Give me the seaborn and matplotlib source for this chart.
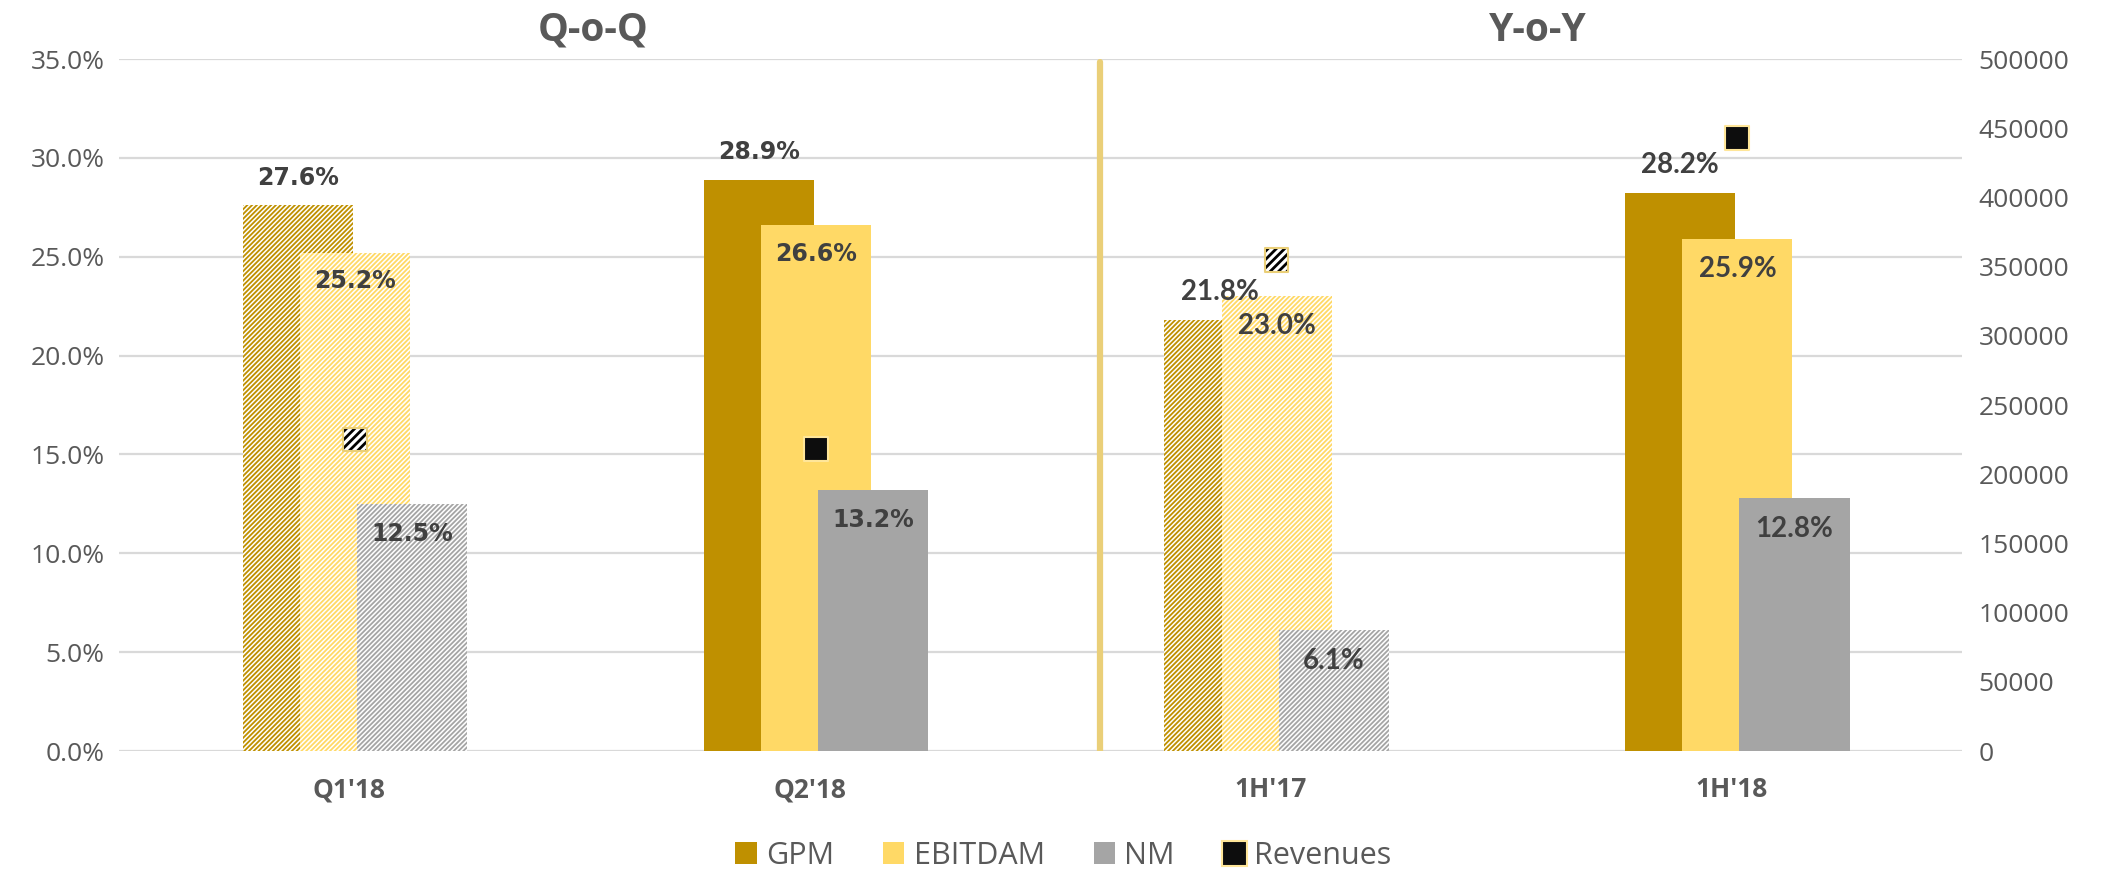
import numpy as np
import pandas as pd
import matplotlib
matplotlib.use('Agg')
import matplotlib.pyplot as plt
import seaborn as sns
from matplotlib.patches import Patch
from matplotlib.lines import Line2D

# ---- data ----
categories = ["Q1'18", "Q2'18", "1H'17", "1H'18"]
series = ['GPM', 'EBITDAM', 'NM']
gpm = [27.6, 28.9, 21.8, 28.2]
ebitdam = [25.2, 26.6, 23.0, 25.9]
nm = [12.5, 13.2, 6.1, 12.8]
revenues = [225000, 218000, 355000, 443000]
hatched = ["Q1'18", "1H'17"]
left_ticks = [0, 5, 10, 15, 20, 25, 30, 35]
right_ticks = list(range(0, 500001, 50000))

colors = {'GPM': '#BF9000', 'EBITDAM': '#FFD966', 'NM': '#A5A5A5'}
txt = '#595959'
lbl = '#404040'

df = pd.DataFrame({
    'period': categories * 3,
    'metric': [s for s in series for _ in categories],
    'value': gpm + ebitdam + nm,
})

sns.set_style('white')
plt.rcParams['font.family'] = ['Open Sans', 'DejaVu Sans']
plt.rcParams['hatch.linewidth'] = 1.3

fig = plt.figure(figsize=(21.14, 8.73), dpi=100)
ax = fig.add_axes([0.0561, 0.1397, 0.8719, 0.7927])

step = 0.124
barw = 0.239
shift = 0.013
sns.barplot(data=df, x='period', y='value', hue='metric', order=categories,
            hue_order=series, palette=colors, width=3 * step, gap=0,
            saturation=1, legend=False, ax=ax)

# widen bars so they overlap like the original
for p in list(ax.patches):
    cx = p.get_x() + p.get_width() / 2
    i = int(round(cx))
    k = int(round((cx - i) / step)) + 1
    p.set_x(cx + shift - barw / 2)
    p.set_width(barw)
    p.set_zorder(2 + k)
    p.set_linewidth(0)
    if categories[i] in hatched:
        c = colors[series[k]]
        p.set_facecolor('white')
        p.set_edgecolor(c)
        p.set_hatch('///////')

# data labels (the quarterly ones use a wider face in the original)
for i, cat in enumerate(categories):
    if cat.startswith('Q'):
        fam, fs = 'DejaVu Sans', 17
    else:
        fam, fs = 'Lato', 20
    kw = dict(textcoords='offset points', ha='center', fontsize=fs,
              fontweight='bold', color=lbl, zorder=10, family=fam)
    ax.annotate(f'{gpm[i]:.1f}%', (i - step + shift, gpm[i]), xytext=(0, 11),
                va='bottom', **kw)
    ax.annotate(f'{ebitdam[i]:.1f}%', (i + shift, ebitdam[i]), xytext=(0, -12),
                va='top', **kw)
    ax.annotate(f'{nm[i]:.1f}%', (i + step + shift, nm[i]), xytext=(0, -13),
                va='top', **kw)

ax.set_ylim(0, 35)
ax.set_yticks(left_ticks)
ax.set_yticklabels([f'{v:.1f}%' for v in left_ticks], fontsize=19, color=txt)
ax.set_xticks(range(len(categories)))
ax.set_xticklabels(categories, fontsize=19, fontweight='bold', color=txt)
ax.tick_params(length=0, axis='x', pad=18)
ax.tick_params(length=0, axis='y', pad=10)
ax.set_xlabel('')
ax.set_ylabel('')
ax.grid(axis='y', color='#D9D9D9', lw=1.6)
ax.set_axisbelow(True)
sns.despine(ax=ax, left=True, bottom=True)

# separator between Q-o-Q and Y-o-Y
ax.axvline(1.63, ymin=0, ymax=0.9957, color='#EACF78', lw=4.5, zorder=6)

# revenues on the secondary axis
ax2 = ax.twinx()
solid = [i for i, c in enumerate(categories) if c not in hatched]
hat = [i for i, c in enumerate(categories) if c in hatched]
sns.scatterplot(x=[i + shift for i in solid], y=[revenues[i] for i in solid],
                marker='s', s=290, color='#0D0D0D', edgecolor='#FFE699',
                linewidth=1.5, ax=ax2, zorder=5)
hs = ax2.scatter([i + shift for i in hat], [revenues[i] for i in hat],
                 marker='s', s=290, facecolor='white', edgecolor='black',
                 linewidth=0, hatch='////', zorder=5)
if hasattr(hs, 'set_hatch_linewidth'):
    hs.set_hatch_linewidth(2.0)
ax2.scatter([i + shift for i in hat], [revenues[i] for i in hat], marker='s',
            s=290, facecolor='none', edgecolor='#EACF78', linewidth=1.5,
            zorder=6)
ax2.set_ylim(0, 500000)
ax2.set_yticks(right_ticks)
ax2.set_yticklabels([str(v) for v in right_ticks], fontsize=19, color=txt)
ax2.tick_params(length=0, axis='y', pad=12)
ax2.set_ylabel('')
sns.despine(ax=ax2, left=True, bottom=True, right=True)
ax.set_xlim(-0.5, 3.5)

# section titles
fig.text(0.2805, 0.9656, 'Q-o-Q', ha='center', va='center', fontsize=28,
         fontweight='bold', color=txt)
fig.text(0.7275, 0.9656, 'Y-o-Y', ha='center', va='center', fontsize=28,
         fontweight='bold', color=txt)

handles = [Patch(facecolor=colors[s], edgecolor='none', label=s) for s in series]
handles.append(Line2D([], [], marker='s', linestyle='none', markersize=18,
                      markerfacecolor='#0D0D0D', markeredgecolor='#FFE699',
                      markeredgewidth=1.5, label='Revenues'))
leg = fig.legend(handles=handles, loc='center', bbox_to_anchor=(0.503, 0.02),
                 ncol=4, frameon=False, fontsize=22, handlelength=0.7,
                 handleheight=0.7, columnspacing=1.6, handletextpad=0.3)
for t in leg.get_texts():
    t.set_color(txt)

fig.savefig('out.png', dpi=100)
